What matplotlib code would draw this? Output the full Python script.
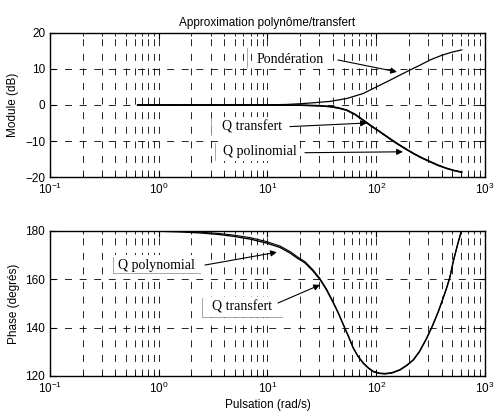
import numpy as np
import matplotlib
matplotlib.use('Agg')
import matplotlib.pyplot as plt

plt.rcParams['font.family'] = ['Liberation Sans', 'DejaVu Sans']
plt.rcParams['font.size'] = 8.5
plt.rcParams['mathtext.fontset'] = 'custom'
plt.rcParams['mathtext.rm'] = 'Liberation Sans'
plt.rcParams['mathtext.it'] = 'Liberation Sans:italic'
plt.rcParams['mathtext.bf'] = 'Liberation Sans:bold'
plt.rcParams['lines.scale_dashes'] = False

# module (dB)
w_mod = [0.64, 5, 10, 20, 30, 37.6, 45, 53.5, 64, 76, 90, 108, 130, 154, 185,
         219, 260, 312, 370, 444, 520, 611]
q_transfert_db = [0, 0, 0, -0.05, -0.2, -0.4, -0.8, -1.4, -2.6, -4.2, -5.8, -7.4,
                  -9.1, -10.6, -12.1, -13.4, -14.6, -15.7, -16.7, -17.6, -18.2, -18.7]
q_polinomial_db = [0, 0, 0, -0.05, -0.25, -0.5, -0.9, -1.5, -2.7, -4.3, -5.9, -7.5,
                   -9.2, -10.7, -12.2, -13.5, -14.7, -15.8, -16.8, -17.6, -18.2, -18.6]
w_pond = [0.64, 5, 10, 15, 20, 26, 37.6, 53.5, 76, 100, 130, 165, 204, 250, 312,
          400, 500, 611]
ponderation_db = [0, 0, 0.05, 0.15, 0.35, 0.6, 1.0, 1.8, 3.2, 5.0, 6.7, 8.3, 9.7,
                  11.0, 12.5, 13.8, 14.7, 15.3]

# phase (degres)
w_ph = [0.64, 1.0, 1.6, 2.4, 3.5, 4.85, 7.0, 9.8, 13, 16.1, 19, 22.1, 26, 30.4, 35,
        40.3, 45, 49.8, 55, 61.5, 68, 76, 85, 94, 107, 120, 140, 165, 190, 219, 250,
        291, 330, 373, 410, 444, 476, 511, 560, 611]
phase_transfert = [180.0, 179.9, 179.6, 179.2, 178.6, 177.8, 176.6, 175.0, 173.2,
                   170.9, 168.6, 166.8, 163.6, 159.9, 155.5, 150.2, 145.8, 141.2,
                   136.8, 131.6, 128.2, 125.4, 123.3, 121.9, 121.2, 121.0, 121.4,
                   122.6, 124.4, 126.7, 130.2, 135.7, 141.0, 146.8, 152.0, 156.5,
                   161.0, 167.5, 174.5, 180.5]
phase_polynomial = [180.0, 180.0, 179.8, 179.5, 179.0, 178.3, 177.2, 175.6, 173.8,
                    171.5, 169.2, 167.3, 164.1, 160.3, 155.9, 150.5, 146.0, 141.3,
                    136.8, 131.5, 128.0, 125.2, 123.1, 121.7, 121.0, 120.8, 121.2,
                    122.4, 124.2, 126.5, 130.0, 135.5, 140.8, 146.6, 151.8, 156.3,
                    160.8, 167.3, 174.3, 180.3]

fig = plt.figure(figsize=(4.96, 4.16), dpi=100)
ax1 = fig.add_axes([0.1008, 0.5745, 0.877, 0.3462])
ax2 = fig.add_axes([0.1008, 0.0962, 0.877, 0.3486])

grid_ls = (0, (5, 5.5))
for ax in (ax1, ax2):
    ax.set_xscale('log')
    ax.set_xlim(0.1, 1000)
    ax.grid(True, which='both', axis='x', ls=grid_ls, color='k', lw=0.6)
    ax.grid(True, which='major', axis='y', ls=grid_ls, color='k', lw=0.6)
    ax.tick_params(which='both', direction='in', top=True, right=True, labelsize=8.5)
    ax.tick_params(which='major', length=4)
    ax.tick_params(which='minor', length=2.5)
    for s in ax.spines.values():
        s.set_linewidth(1.0)

ax1.plot(w_mod, q_transfert_db, color='k', lw=1.2)
ax1.plot(w_mod, q_polinomial_db, color='k', lw=0.9)
ax1.plot(w_pond, ponderation_db, color='k', lw=0.9)
ax1.set_ylim(-20, 20)
ax1.set_yticks([-20, -10, 0, 10, 20])
ax1.set_ylabel('Module (dB)')
ax1.set_title('Approximation polynôme/transfert', fontsize=8.5, pad=5)

ax2.plot(w_ph, phase_transfert, color='k', lw=1.0)
ax2.plot(w_ph, phase_polynomial, color='k', lw=0.8)
ax2.set_ylim(120, 180)
ax2.set_yticks([120, 140, 160, 180])
ax2.set_ylabel('Phase (degrés)')
ax2.set_xlabel('Pulsation (rad/s)', labelpad=2)

arrow = dict(arrowstyle='-|>', color='k', lw=0.8, mutation_scale=9,
             shrinkA=0, shrinkB=0)
serif = dict(family=['Liberation Serif', 'DejaVu Serif'], fontsize=10,
             ha='left', va='center')
box = dict(fc='white', ec='none', pad=2.5)


def label(ax, text, xy_text, xy_arrow_start, xy_head, border, underline=None):
    ax.text(xy_text[0], xy_text[1], text, bbox=box, zorder=5, **serif)
    ax.annotate('', xy=xy_head, xytext=xy_arrow_start, arrowprops=arrow, zorder=6)
    bx, by0, by1 = border
    ax.plot([bx, bx], [by0, by1], color='#999999', lw=0.6, zorder=6)
    if underline is not None:
        ax.plot([bx, underline], [by1, by1], color='#999999', lw=0.6, zorder=6)


label(ax1, 'Pondération', (8.0, 12.7), (44.5, 12.5), (155, 9.2), (6.48, 15.8, 10.6))
label(ax1, 'Q transfert', (3.8, -6.1), (16.1, -6.0), (82, -5.0), (3.02, -3.6, -8.3))
label(ax1, 'Q polinomial', (3.9, -12.8), (22.1, -13.25), (176, -13.0), (3.29, -10.6, -15.3))

label(ax2, 'Q polynomial', (0.42, 165.9), (2.66, 165.9), (12.2, 171.2),
      (0.377, 169.4, 162.6), underline=2.39)
label(ax2, 'Q transfert', (3.1, 148.5), (12.5, 150.2), (30.4, 157.7),
      (2.48, 152.3, 144.4), underline=13.6)

fig.savefig('out.png', dpi=100)
